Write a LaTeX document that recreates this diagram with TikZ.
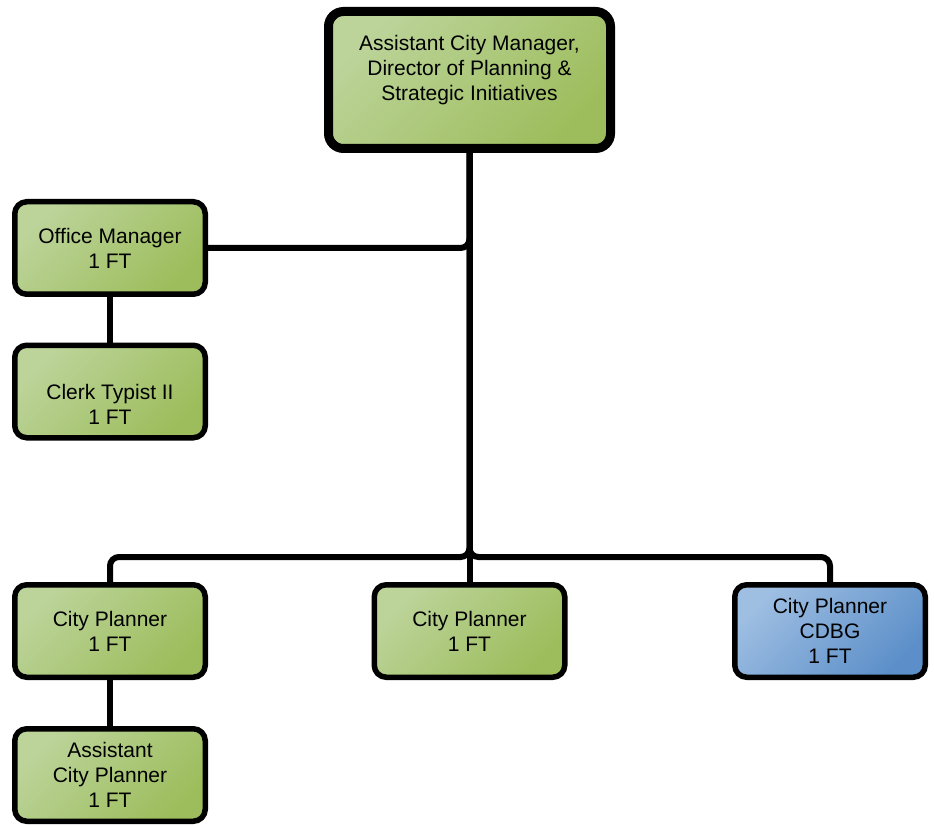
\documentclass[tikz,border=0pt]{standalone}
\usepackage{fontspec}
\setmainfont{Liberation Sans}
\usepackage{tikz}
\usetikzlibrary{positioning}
\definecolor{greenlight}{HTML}{BCD49A}
\definecolor{greendark}{HTML}{9DBD5C}
\definecolor{bluelight}{HTML}{9EBEE2}
\definecolor{bluedark}{HTML}{5C8FC9}
\tikzset{>=stealth,
  post/.style={draw=black, line width=5.5pt, rounded corners=12pt, top color=greenlight, bottom color=greendark, shading angle=45, minimum width=190.5pt, minimum height=92.5pt, inner sep=0pt, align=center, font=\fontsize{21}{25}\selectfont},
  bluepost/.style={post, top color=bluelight, bottom color=bluedark, shading angle=45},
  headpost/.style={post, line width=9pt, rounded corners=15pt, minimum width=282pt, minimum height=137pt},
  conn/.style={line width=6pt, rounded corners=9pt}}

\begin{document}
\begin{tikzpicture}[x=1pt, y=-1pt]
\useasboundingbox (0,0) rectangle (934,826);
\node[headpost] (acm) at (469.5,80) {Assistant City Manager,\\Director of Planning \&\\Strategic Initiatives\\\mbox{}};
\node[post] (om) at (110,248) {Office Manager\\1 FT};
\node[post] (ct) at (110,391.5) {\rule{0pt}{16pt}\\Clerk Typist II\\1 FT};
\node[post] (cp1) at (110,631) {City Planner\\1 FT};
\node[post] (cp2) at (469.5,631) {City Planner\\1 FT};
\node[bluepost] (cp3) at (830,631) {City Planner\\CDBG\\1 FT};
\node[post] (acp) at (110,775) {Assistant\\City Planner\\1 FT};
\coordinate (bus) at (469.5,557);
% connectors
\draw[conn] (acm.south) -- (cp2.north);
\draw[conn] (acm.south) |- (om.east);
\draw[conn] (acm.south) |- (bus -| cp1.north) -- (cp1.north);
\draw[conn] (acm.south) |- (bus -| cp3.north) -- (cp3.north);
\draw[conn] (om.south) -- (ct.north);
\draw[conn] (cp1.south) -- (acp.north);
\end{tikzpicture}
\end{document}
